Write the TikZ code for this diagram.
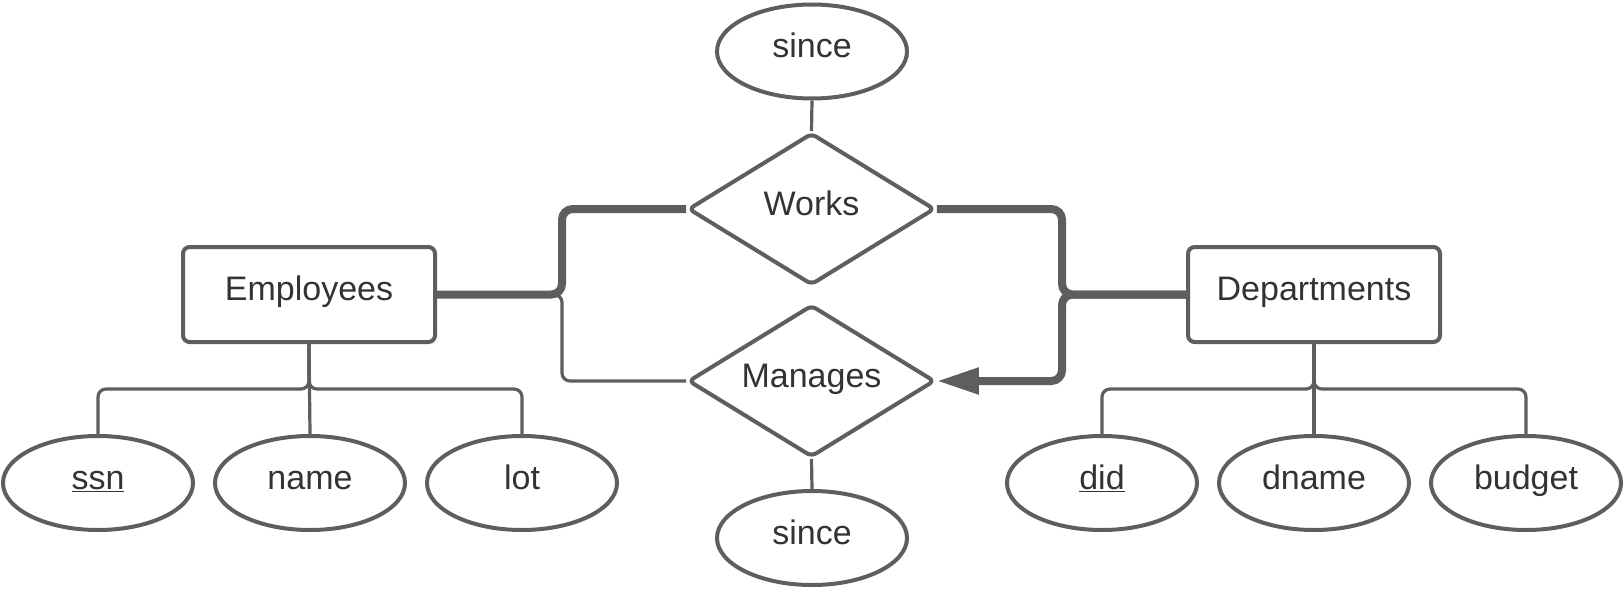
\documentclass[tikz,border=0pt]{standalone}
\usepackage{fontspec}
\setmainfont{Liberation Sans}
\usetikzlibrary{shapes.geometric,arrows.meta}
\definecolor{ln}{HTML}{5E5E5E}
\definecolor{tx}{HTML}{333333}
\begin{document}
\begin{tikzpicture}[x=0.75pt,y=-0.75pt,
 every node/.style={font=\fontsize{25.5}{30}\selectfont, text=tx, text height=17pt, text depth=8pt},
 entity/.style={draw=ln, line width=3pt, rounded corners=5pt, minimum width=189pt, minimum height=71.25pt, inner sep=0pt},
 attr/.style={draw=ln, line width=3pt, ellipse, minimum width=142.5pt, minimum height=70.5pt, inner sep=0pt},
 rel/.style={draw=ln, line width=3pt, diamond, shape aspect=1.62, rounded corners=4pt, minimum width=185pt, minimum height=114pt, inner sep=0pt},
 thinline/.style={draw=ln, line width=2.4pt, rounded corners=6pt},
 thickline/.style={draw=ln, line width=6pt, rounded corners=8pt},
]
\useasboundingbox (0,0) rectangle (1624,589);
\node[entity] (emp) at (309,294.5) {Employees};
\node[entity] (dep) at (1314,294.5) {Departments};
\node[rel] (works) at (811.5,209) {Works};
\node[rel] (man) at (811.5,381) {Manages};
\node[attr] (s1) at (812,51.5) {since};
\node[attr] (s2) at (812,538) {since};
\node[attr] (ssn) at (98,483) {\underline{ssn}};
\node[attr] (name) at (310,483) {name};
\node[attr] (lot) at (522,483) {lot};
\node[attr] (did) at (1102,483) {\underline{did}};
\node[attr] (dname) at (1314,483) {dname};
\node[attr] (budget) at (1526,483) {budget};
\coordinate (jl) at (562,294.5);
\coordinate (jr) at (1062,294.5);
\coordinate (be) at (309,389);
\coordinate (bd) at (1314,389);
% relationship connectors
\draw[thickline] (emp.east) -- (jl) -- (jl |- works.west) -- (works.west);
\draw[thinline] (emp.east) -- (jl) -- (jl |- man.west) -- (man.west);
\draw[thickline] (works.east) -- (jr |- works.east) -- (jr) -- (dep.west);
\draw[thickline, -{Triangle[length=31.5pt, width=18.75pt]}] (dep.west) -- (jr) -- (jr |- man.east) -- (man.east);
\draw[thinline] (s1.south) -- (works.north);
\draw[thinline] (man.south) -- (s2.north);
% attribute connectors
\draw[thinline] (emp.south) -- (be) -| (ssn.north);
\draw[thinline] (emp.south) -- (name.north);
\draw[thinline] (emp.south) -- (be) -| (lot.north);
\draw[thinline] (dep.south) -- (bd) -| (did.north);
\draw[thinline] (dep.south) -- (dname.north);
\draw[thinline] (dep.south) -- (bd) -| (budget.north);
\end{tikzpicture}
\end{document}
